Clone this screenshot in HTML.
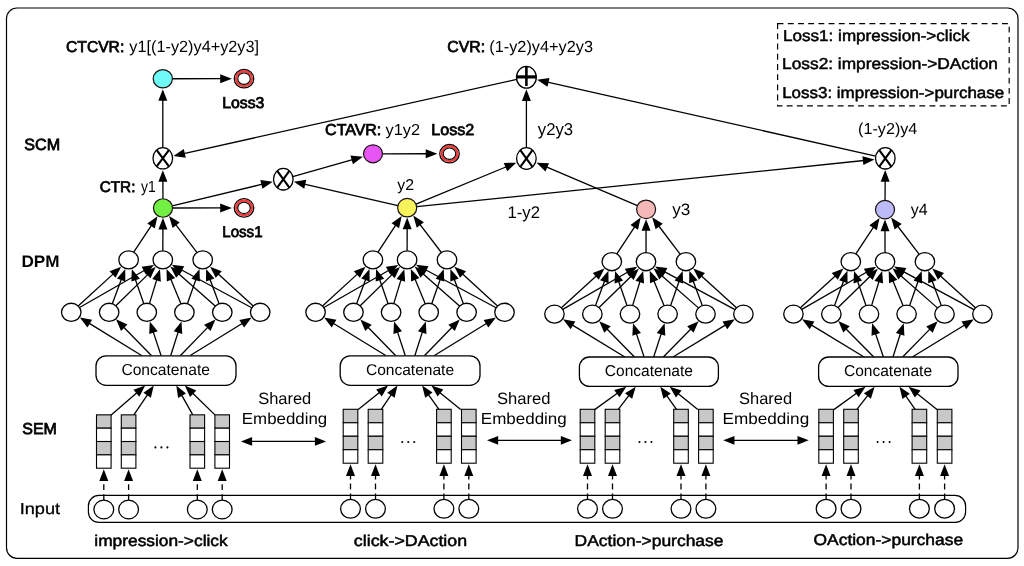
<!DOCTYPE html>
<html><head><meta charset="utf-8"><style>
html,body{margin:0;padding:0;background:#fff;}
svg{display:block;will-change:transform;}
text{font-family:"Liberation Sans",sans-serif;fill:#000;text-rendering:geometricPrecision;}
</style></head><body>
<svg width="1024" height="566" viewBox="0 0 1024 566">
<rect width="1024" height="566" fill="#fff"/>
<rect x="6.5" y="8.0" width="1011.5" height="550.3" rx="10.5" fill="#fff" stroke="#000" stroke-width="1.2"/>
<rect x="777.6" y="23.7" width="231.6" height="82.2" fill="none" stroke="#000" stroke-width="1.2" stroke-dasharray="5.9 4.3"/>
<line x1="142.01" y1="355.8" x2="88.92" y2="323.16" stroke="#000" stroke-width="1.3"/>
<polygon points="79.81,317.56 92.13,319.85 87.42,327.52" fill="#000"/>
<line x1="151.6" y1="355.8" x2="123.52" y2="327.02" stroke="#000" stroke-width="1.3"/>
<polygon points="116.05,319.37 127.44,324.6 121,330.88" fill="#000"/>
<line x1="161.14" y1="355.8" x2="153.16" y2="331.59" stroke="#000" stroke-width="1.3"/>
<polygon points="149.81,321.43 157.75,331.13 149.2,333.95" fill="#000"/>
<line x1="170.66" y1="355.8" x2="178.28" y2="331.66" stroke="#000" stroke-width="1.3"/>
<polygon points="181.51,321.46 182.27,333.97 173.69,331.26" fill="#000"/>
<line x1="180.26" y1="355.8" x2="208" y2="327.09" stroke="#000" stroke-width="1.3"/>
<polygon points="215.44,319.4 210.55,330.94 204.07,324.68" fill="#000"/>
<line x1="189.85" y1="355.8" x2="242.56" y2="323.21" stroke="#000" stroke-width="1.3"/>
<polygon points="251.66,317.58 244.08,327.56 239.34,319.91" fill="#000"/>
<line x1="78.2" y1="305.95" x2="113.31" y2="273.87" stroke="#000" stroke-width="1.3"/>
<polygon points="121.21,266.65 115.61,277.87 109.53,271.22" fill="#000"/>
<line x1="79.55" y1="307.55" x2="144.69" y2="270.26" stroke="#000" stroke-width="1.3"/>
<polygon points="153.98,264.95 146.06,274.67 141.59,266.86" fill="#000"/>
<line x1="112.33" y1="303.74" x2="121.49" y2="279.05" stroke="#000" stroke-width="1.3"/>
<polygon points="125.22,269.02 125.36,281.55 116.92,278.42" fill="#000"/>
<line x1="115.87" y1="305.74" x2="148" y2="274.36" stroke="#000" stroke-width="1.3"/>
<polygon points="155.65,266.88 150.43,278.27 144.14,271.84" fill="#000"/>
<line x1="143.81" y1="303.69" x2="135.3" y2="279.19" stroke="#000" stroke-width="1.3"/>
<polygon points="131.79,269.08 139.88,278.66 131.38,281.61" fill="#000"/>
<line x1="149.46" y1="303.59" x2="156.84" y2="279.41" stroke="#000" stroke-width="1.3"/>
<polygon points="159.97,269.18 160.85,281.69 152.25,279.06" fill="#000"/>
<line x1="180.92" y1="303.85" x2="170.59" y2="278.8" stroke="#000" stroke-width="1.3"/>
<polygon points="166.51,268.91 175.13,278.01 166.81,281.44" fill="#000"/>
<line x1="187.41" y1="303.69" x2="195.97" y2="279.18" stroke="#000" stroke-width="1.3"/>
<polygon points="199.5,269.08 199.89,281.61 191.39,278.64" fill="#000"/>
<line x1="215.23" y1="306.07" x2="178.35" y2="273.6" stroke="#000" stroke-width="1.3"/>
<polygon points="170.32,266.53 182.08,270.88 176.13,277.64" fill="#000"/>
<line x1="219.1" y1="303.75" x2="209.86" y2="279.03" stroke="#000" stroke-width="1.3"/>
<polygon points="206.11,269.01 214.42,278.39 205.99,281.55" fill="#000"/>
<line x1="251.76" y1="307.76" x2="181.19" y2="269.79" stroke="#000" stroke-width="1.3"/>
<polygon points="171.76,264.72 184.2,266.3 179.94,274.23" fill="#000"/>
<line x1="253.24" y1="305.96" x2="218.01" y2="273.85" stroke="#000" stroke-width="1.3"/>
<polygon points="210.1,266.65 221.78,271.2 215.72,277.85" fill="#000"/>
<line x1="133.71" y1="252.19" x2="151.6" y2="225.2" stroke="#000" stroke-width="1.3"/>
<polygon points="157.51,216.28 154.8,228.52 147.29,223.55" fill="#000"/>
<line x1="162.83" y1="250.85" x2="162.92" y2="228.55" stroke="#000" stroke-width="1.3"/>
<polygon points="162.96,217.85 167.42,229.57 158.42,229.53" fill="#000"/>
<line x1="197.06" y1="252.52" x2="175.55" y2="224.41" stroke="#000" stroke-width="1.3"/>
<polygon points="169.05,215.91 179.73,222.47 172.58,227.94" fill="#000"/>
<line x1="110.9" y1="415.15" x2="137.14" y2="392.58" stroke="#000" stroke-width="1.3"/>
<polygon points="145.25,385.6 139.32,396.64 133.45,389.82" fill="#000"/>
<line x1="133.7" y1="415.15" x2="147.74" y2="394.45" stroke="#000" stroke-width="1.3"/>
<polygon points="153.75,385.6 150.9,397.81 143.46,392.76" fill="#000"/>
<line x1="192.9" y1="415.15" x2="181.54" y2="394.93" stroke="#000" stroke-width="1.3"/>
<polygon points="176.3,385.6 185.95,393.6 178.11,398" fill="#000"/>
<line x1="215.2" y1="415.15" x2="192.47" y2="393.06" stroke="#000" stroke-width="1.3"/>
<polygon points="184.8,385.6 196.33,390.53 190.05,396.98" fill="#000"/>
<line x1="103.8" y1="500" x2="103.8" y2="479.9" stroke="#000" stroke-width="1.3" stroke-dasharray="5.8 4.2"/>
<polygon points="103.8,469.2 108.3,480.9 99.3,480.9" fill="#000"/>
<line x1="128.6" y1="500" x2="128.6" y2="479.9" stroke="#000" stroke-width="1.3" stroke-dasharray="5.8 4.2"/>
<polygon points="128.6,469.2 133.1,480.9 124.1,480.9" fill="#000"/>
<line x1="197.3" y1="500" x2="197.3" y2="479.9" stroke="#000" stroke-width="1.3" stroke-dasharray="5.8 4.2"/>
<polygon points="197.3,469.2 201.8,480.9 192.8,480.9" fill="#000"/>
<line x1="222.2" y1="500" x2="222.2" y2="479.9" stroke="#000" stroke-width="1.3" stroke-dasharray="5.8 4.2"/>
<polygon points="222.2,469.2 226.7,480.9 217.7,480.9" fill="#000"/>
<line x1="386.16" y1="355.8" x2="333.21" y2="323.18" stroke="#000" stroke-width="1.3"/>
<polygon points="324.1,317.57 336.42,319.87 331.7,327.54" fill="#000"/>
<line x1="395.76" y1="355.8" x2="367.79" y2="327.05" stroke="#000" stroke-width="1.3"/>
<polygon points="360.33,319.38 371.72,324.63 365.26,330.9" fill="#000"/>
<line x1="405.29" y1="355.8" x2="397.4" y2="331.61" stroke="#000" stroke-width="1.3"/>
<polygon points="394.08,321.44 401.99,331.17 393.43,333.96" fill="#000"/>
<line x1="414.81" y1="355.8" x2="422.52" y2="331.65" stroke="#000" stroke-width="1.3"/>
<polygon points="425.78,321.45 426.5,333.97 417.93,331.23" fill="#000"/>
<line x1="424.41" y1="355.8" x2="452.28" y2="327.07" stroke="#000" stroke-width="1.3"/>
<polygon points="459.73,319.39 454.81,330.92 448.35,324.65" fill="#000"/>
<line x1="434" y1="355.8" x2="486.85" y2="323.19" stroke="#000" stroke-width="1.3"/>
<polygon points="495.95,317.57 488.36,327.55 483.63,319.89" fill="#000"/>
<line x1="322.5" y1="305.95" x2="357.61" y2="273.87" stroke="#000" stroke-width="1.3"/>
<polygon points="365.51,266.65 359.91,277.87 353.83,271.22" fill="#000"/>
<line x1="323.85" y1="307.55" x2="388.99" y2="270.26" stroke="#000" stroke-width="1.3"/>
<polygon points="398.28,264.95 390.36,274.67 385.89,266.86" fill="#000"/>
<line x1="356.63" y1="303.74" x2="365.79" y2="279.05" stroke="#000" stroke-width="1.3"/>
<polygon points="369.52,269.02 369.66,281.55 361.22,278.42" fill="#000"/>
<line x1="360.17" y1="305.74" x2="392.3" y2="274.36" stroke="#000" stroke-width="1.3"/>
<polygon points="399.95,266.88 394.73,278.27 388.44,271.84" fill="#000"/>
<line x1="388.11" y1="303.69" x2="379.6" y2="279.19" stroke="#000" stroke-width="1.3"/>
<polygon points="376.09,269.08 384.18,278.66 375.68,281.61" fill="#000"/>
<line x1="393.76" y1="303.59" x2="401.14" y2="279.41" stroke="#000" stroke-width="1.3"/>
<polygon points="404.27,269.18 405.15,281.69 396.55,279.06" fill="#000"/>
<line x1="425.22" y1="303.85" x2="414.89" y2="278.8" stroke="#000" stroke-width="1.3"/>
<polygon points="410.81,268.91 419.43,278.01 411.11,281.44" fill="#000"/>
<line x1="431.71" y1="303.69" x2="440.27" y2="279.18" stroke="#000" stroke-width="1.3"/>
<polygon points="443.8,269.08 444.19,281.61 435.69,278.64" fill="#000"/>
<line x1="459.53" y1="306.07" x2="422.65" y2="273.6" stroke="#000" stroke-width="1.3"/>
<polygon points="414.62,266.53 426.38,270.88 420.43,277.64" fill="#000"/>
<line x1="463.4" y1="303.75" x2="454.16" y2="279.03" stroke="#000" stroke-width="1.3"/>
<polygon points="450.41,269.01 458.72,278.39 450.29,281.55" fill="#000"/>
<line x1="496.06" y1="307.76" x2="425.49" y2="269.79" stroke="#000" stroke-width="1.3"/>
<polygon points="416.06,264.72 428.5,266.3 424.24,274.23" fill="#000"/>
<line x1="497.54" y1="305.96" x2="462.31" y2="273.85" stroke="#000" stroke-width="1.3"/>
<polygon points="454.4,266.65 466.08,271.2 460.02,277.85" fill="#000"/>
<line x1="377.98" y1="252.17" x2="395.87" y2="224.95" stroke="#000" stroke-width="1.3"/>
<polygon points="401.74,216.01 399.08,228.25 391.56,223.31" fill="#000"/>
<line x1="407.12" y1="250.85" x2="407.16" y2="228.25" stroke="#000" stroke-width="1.3"/>
<polygon points="407.18,217.55 411.66,229.26 402.66,229.24" fill="#000"/>
<line x1="441.37" y1="252.51" x2="419.72" y2="224.13" stroke="#000" stroke-width="1.3"/>
<polygon points="413.24,215.62 423.91,222.19 416.75,227.65" fill="#000"/>
<line x1="358.2" y1="409.6" x2="379.76" y2="392.3" stroke="#000" stroke-width="1.3"/>
<polygon points="388.1,385.6 381.79,396.43 376.16,389.41" fill="#000"/>
<line x1="381.1" y1="409.6" x2="391.46" y2="394.43" stroke="#000" stroke-width="1.3"/>
<polygon points="397.5,385.6 394.61,397.8 387.18,392.72" fill="#000"/>
<line x1="439.1" y1="409.6" x2="428.28" y2="394.33" stroke="#000" stroke-width="1.3"/>
<polygon points="422.1,385.6 432.53,392.55 425.19,397.75" fill="#000"/>
<line x1="460.7" y1="409.6" x2="439.68" y2="392.38" stroke="#000" stroke-width="1.3"/>
<polygon points="431.4,385.6 443.3,389.53 437.6,396.5" fill="#000"/>
<line x1="350.5" y1="499.4" x2="350.5" y2="474.9" stroke="#000" stroke-width="1.3" stroke-dasharray="5.8 4.2"/>
<polygon points="350.5,464.2 355,475.9 346,475.9" fill="#000"/>
<line x1="375.5" y1="499.4" x2="375.5" y2="474.9" stroke="#000" stroke-width="1.3" stroke-dasharray="5.8 4.2"/>
<polygon points="375.5,464.2 380,475.9 371,475.9" fill="#000"/>
<line x1="443.9" y1="499.4" x2="443.9" y2="474.9" stroke="#000" stroke-width="1.3" stroke-dasharray="5.8 4.2"/>
<polygon points="443.9,464.2 448.4,475.9 439.4,475.9" fill="#000"/>
<line x1="468.8" y1="499.4" x2="468.8" y2="474.9" stroke="#000" stroke-width="1.3" stroke-dasharray="5.8 4.2"/>
<polygon points="468.8,464.2 473.3,475.9 464.3,475.9" fill="#000"/>
<line x1="624.8" y1="357" x2="572.16" y2="324.9" stroke="#000" stroke-width="1.3"/>
<polygon points="563.03,319.33 575.36,321.58 570.67,329.26" fill="#000"/>
<line x1="634.47" y1="357" x2="606.76" y2="328.78" stroke="#000" stroke-width="1.3"/>
<polygon points="599.27,321.15 610.68,326.34 604.25,332.65" fill="#000"/>
<line x1="644.08" y1="357" x2="636.33" y2="333.4" stroke="#000" stroke-width="1.3"/>
<polygon points="633,323.23 640.92,332.95 632.37,335.75" fill="#000"/>
<line x1="653.67" y1="357" x2="661.33" y2="333.42" stroke="#000" stroke-width="1.3"/>
<polygon points="664.63,323.24 665.3,335.76 656.74,332.98" fill="#000"/>
<line x1="663.34" y1="357" x2="691.08" y2="328.78" stroke="#000" stroke-width="1.3"/>
<polygon points="698.58,321.14 693.59,332.64 687.17,326.34" fill="#000"/>
<line x1="673.02" y1="357" x2="725.69" y2="324.9" stroke="#000" stroke-width="1.3"/>
<polygon points="734.82,319.33 727.17,329.26 722.49,321.58" fill="#000"/>
<line x1="561.4" y1="307.75" x2="596.51" y2="275.67" stroke="#000" stroke-width="1.3"/>
<polygon points="604.41,268.45 598.81,279.67 592.73,273.02" fill="#000"/>
<line x1="562.75" y1="309.35" x2="627.89" y2="272.06" stroke="#000" stroke-width="1.3"/>
<polygon points="637.18,266.75 629.26,276.47 624.79,268.66" fill="#000"/>
<line x1="595.53" y1="305.54" x2="604.69" y2="280.85" stroke="#000" stroke-width="1.3"/>
<polygon points="608.42,270.82 608.56,283.35 600.12,280.22" fill="#000"/>
<line x1="599.07" y1="307.54" x2="631.2" y2="276.16" stroke="#000" stroke-width="1.3"/>
<polygon points="638.85,268.68 633.63,280.07 627.34,273.64" fill="#000"/>
<line x1="627.01" y1="305.49" x2="618.5" y2="280.99" stroke="#000" stroke-width="1.3"/>
<polygon points="614.99,270.88 623.08,280.46 614.58,283.41" fill="#000"/>
<line x1="632.66" y1="305.39" x2="640.04" y2="281.21" stroke="#000" stroke-width="1.3"/>
<polygon points="643.17,270.98 644.05,283.49 635.45,280.86" fill="#000"/>
<line x1="664.12" y1="305.65" x2="653.79" y2="280.6" stroke="#000" stroke-width="1.3"/>
<polygon points="649.71,270.71 658.33,279.81 650.01,283.24" fill="#000"/>
<line x1="670.61" y1="305.49" x2="679.17" y2="280.98" stroke="#000" stroke-width="1.3"/>
<polygon points="682.7,270.88 683.09,283.41 674.59,280.44" fill="#000"/>
<line x1="698.43" y1="307.87" x2="661.55" y2="275.4" stroke="#000" stroke-width="1.3"/>
<polygon points="653.52,268.33 665.28,272.68 659.33,279.44" fill="#000"/>
<line x1="702.3" y1="305.55" x2="693.06" y2="280.83" stroke="#000" stroke-width="1.3"/>
<polygon points="689.31,270.81 697.62,280.19 689.19,283.35" fill="#000"/>
<line x1="734.96" y1="309.56" x2="664.39" y2="271.59" stroke="#000" stroke-width="1.3"/>
<polygon points="654.96,266.52 667.4,268.1 663.14,276.03" fill="#000"/>
<line x1="736.44" y1="307.76" x2="701.21" y2="275.65" stroke="#000" stroke-width="1.3"/>
<polygon points="693.3,268.45 704.98,273 698.92,279.65" fill="#000"/>
<line x1="616.86" y1="253.97" x2="634.8" y2="226.57" stroke="#000" stroke-width="1.3"/>
<polygon points="640.66,217.61 638.01,229.87 630.48,224.94" fill="#000"/>
<line x1="646.02" y1="252.65" x2="646.06" y2="229.85" stroke="#000" stroke-width="1.3"/>
<polygon points="646.08,219.15 650.56,230.86 641.56,230.84" fill="#000"/>
<line x1="680.28" y1="254.3" x2="658.59" y2="225.75" stroke="#000" stroke-width="1.3"/>
<polygon points="652.12,217.23 662.78,223.82 655.62,229.27" fill="#000"/>
<line x1="594.7" y1="409.6" x2="617.64" y2="392.98" stroke="#000" stroke-width="1.3"/>
<polygon points="626.3,386.7 619.47,397.21 614.19,389.92" fill="#000"/>
<line x1="618.1" y1="409.6" x2="629.18" y2="395.18" stroke="#000" stroke-width="1.3"/>
<polygon points="635.7,386.7 632.14,398.72 625,393.23" fill="#000"/>
<line x1="676.7" y1="409.6" x2="666.53" y2="395.4" stroke="#000" stroke-width="1.3"/>
<polygon points="660.3,386.7 670.77,393.59 663.45,398.83" fill="#000"/>
<line x1="697.8" y1="409.6" x2="677.99" y2="393.46" stroke="#000" stroke-width="1.3"/>
<polygon points="669.7,386.7 681.61,390.6 675.93,397.58" fill="#000"/>
<line x1="587.5" y1="499.4" x2="587.5" y2="474.9" stroke="#000" stroke-width="1.3" stroke-dasharray="5.8 4.2"/>
<polygon points="587.5,464.2 592,475.9 583,475.9" fill="#000"/>
<line x1="612.5" y1="499.4" x2="612.5" y2="474.9" stroke="#000" stroke-width="1.3" stroke-dasharray="5.8 4.2"/>
<polygon points="612.5,464.2 617,475.9 608,475.9" fill="#000"/>
<line x1="681" y1="499.4" x2="681" y2="474.9" stroke="#000" stroke-width="1.3" stroke-dasharray="5.8 4.2"/>
<polygon points="681,464.2 685.5,475.9 676.5,475.9" fill="#000"/>
<line x1="705.9" y1="499.4" x2="705.9" y2="474.9" stroke="#000" stroke-width="1.3" stroke-dasharray="5.8 4.2"/>
<polygon points="705.9,464.2 710.4,475.9 701.4,475.9" fill="#000"/>
<line x1="864.09" y1="357" x2="811.18" y2="324.87" stroke="#000" stroke-width="1.3"/>
<polygon points="802.04,319.31 814.37,321.54 809.7,329.23" fill="#000"/>
<line x1="873.77" y1="357" x2="845.82" y2="328.73" stroke="#000" stroke-width="1.3"/>
<polygon points="838.29,321.12 849.72,326.28 843.32,332.61" fill="#000"/>
<line x1="883.37" y1="357" x2="875.45" y2="333.36" stroke="#000" stroke-width="1.3"/>
<polygon points="872.05,323.22 880.04,332.88 871.5,335.74" fill="#000"/>
<line x1="892.97" y1="357" x2="900.45" y2="333.45" stroke="#000" stroke-width="1.3"/>
<polygon points="903.69,323.26 904.44,335.77 895.86,333.05" fill="#000"/>
<line x1="902.64" y1="357" x2="930.13" y2="328.83" stroke="#000" stroke-width="1.3"/>
<polygon points="937.61,321.17 932.66,332.68 926.21,326.4" fill="#000"/>
<line x1="912.32" y1="357" x2="964.71" y2="324.93" stroke="#000" stroke-width="1.3"/>
<polygon points="973.83,319.34 966.2,329.29 961.51,321.61" fill="#000"/>
<line x1="800.4" y1="307.75" x2="835.51" y2="275.67" stroke="#000" stroke-width="1.3"/>
<polygon points="843.41,268.45 837.81,279.67 831.73,273.02" fill="#000"/>
<line x1="801.75" y1="309.35" x2="866.89" y2="272.06" stroke="#000" stroke-width="1.3"/>
<polygon points="876.18,266.75 868.26,276.47 863.79,268.66" fill="#000"/>
<line x1="834.53" y1="305.54" x2="843.69" y2="280.85" stroke="#000" stroke-width="1.3"/>
<polygon points="847.42,270.82 847.56,283.35 839.12,280.22" fill="#000"/>
<line x1="838.07" y1="307.54" x2="870.2" y2="276.16" stroke="#000" stroke-width="1.3"/>
<polygon points="877.85,268.68 872.63,280.07 866.34,273.64" fill="#000"/>
<line x1="866.01" y1="305.49" x2="857.5" y2="280.99" stroke="#000" stroke-width="1.3"/>
<polygon points="853.99,270.88 862.08,280.46 853.58,283.41" fill="#000"/>
<line x1="871.66" y1="305.39" x2="879.04" y2="281.21" stroke="#000" stroke-width="1.3"/>
<polygon points="882.17,270.98 883.05,283.49 874.45,280.86" fill="#000"/>
<line x1="903.12" y1="305.65" x2="892.79" y2="280.6" stroke="#000" stroke-width="1.3"/>
<polygon points="888.71,270.71 897.33,279.81 889.01,283.24" fill="#000"/>
<line x1="909.61" y1="305.49" x2="918.17" y2="280.98" stroke="#000" stroke-width="1.3"/>
<polygon points="921.7,270.88 922.09,283.41 913.59,280.44" fill="#000"/>
<line x1="937.43" y1="307.87" x2="900.55" y2="275.4" stroke="#000" stroke-width="1.3"/>
<polygon points="892.52,268.33 904.28,272.68 898.33,279.44" fill="#000"/>
<line x1="941.3" y1="305.55" x2="932.06" y2="280.83" stroke="#000" stroke-width="1.3"/>
<polygon points="928.31,270.81 936.62,280.19 928.19,283.35" fill="#000"/>
<line x1="973.96" y1="309.56" x2="903.39" y2="271.59" stroke="#000" stroke-width="1.3"/>
<polygon points="893.96,266.52 906.4,268.1 902.14,276.03" fill="#000"/>
<line x1="975.44" y1="307.76" x2="940.21" y2="275.65" stroke="#000" stroke-width="1.3"/>
<polygon points="932.3,268.45 943.98,273 937.92,279.65" fill="#000"/>
<line x1="855.87" y1="253.97" x2="873.67" y2="226.85" stroke="#000" stroke-width="1.3"/>
<polygon points="879.55,217.91 876.89,230.16 869.36,225.22" fill="#000"/>
<line x1="885" y1="252.65" x2="885" y2="230.15" stroke="#000" stroke-width="1.3"/>
<polygon points="885,219.45 889.5,231.15 880.5,231.15" fill="#000"/>
<line x1="919.25" y1="254.32" x2="897.56" y2="226" stroke="#000" stroke-width="1.3"/>
<polygon points="891.05,217.51 901.74,224.06 894.6,229.53" fill="#000"/>
<line x1="833.9" y1="409.6" x2="856.84" y2="392.98" stroke="#000" stroke-width="1.3"/>
<polygon points="865.5,386.7 858.67,397.21 853.39,389.92" fill="#000"/>
<line x1="856.7" y1="409.6" x2="868.01" y2="395.13" stroke="#000" stroke-width="1.3"/>
<polygon points="874.6,386.7 870.94,398.69 863.85,393.15" fill="#000"/>
<line x1="915.3" y1="409.6" x2="905.58" y2="395.51" stroke="#000" stroke-width="1.3"/>
<polygon points="899.5,386.7 909.85,393.77 902.44,398.89" fill="#000"/>
<line x1="937" y1="409.6" x2="916.93" y2="393.42" stroke="#000" stroke-width="1.3"/>
<polygon points="908.6,386.7 920.53,390.54 914.88,397.55" fill="#000"/>
<line x1="826.1" y1="499.4" x2="826.1" y2="474.9" stroke="#000" stroke-width="1.3" stroke-dasharray="5.8 4.2"/>
<polygon points="826.1,464.2 830.6,475.9 821.6,475.9" fill="#000"/>
<line x1="851" y1="499.4" x2="851" y2="474.9" stroke="#000" stroke-width="1.3" stroke-dasharray="5.8 4.2"/>
<polygon points="851,464.2 855.5,475.9 846.5,475.9" fill="#000"/>
<line x1="919.4" y1="499.4" x2="919.4" y2="474.9" stroke="#000" stroke-width="1.3" stroke-dasharray="5.8 4.2"/>
<polygon points="919.4,464.2 923.9,475.9 914.9,475.9" fill="#000"/>
<line x1="944.6" y1="499.4" x2="944.6" y2="474.9" stroke="#000" stroke-width="1.3" stroke-dasharray="5.8 4.2"/>
<polygon points="944.6,464.2 949.1,475.9 940.1,475.9" fill="#000"/>
<line x1="162.96" y1="198.75" x2="162.89" y2="180.85" stroke="#000" stroke-width="1.3"/>
<polygon points="162.85,170.15 167.39,181.83 158.39,181.87" fill="#000"/>
<line x1="162.8" y1="147.55" x2="162.8" y2="99.85" stroke="#000" stroke-width="1.3"/>
<polygon points="162.8,89.15 167.3,100.85 158.3,100.85" fill="#000"/>
<line x1="172.4" y1="78.74" x2="221.2" y2="78.71" stroke="#000" stroke-width="1.3"/>
<polygon points="231.9,78.71 220.2,83.21 220.2,74.21" fill="#000"/>
<line x1="172.55" y1="207.99" x2="221.2" y2="207.93" stroke="#000" stroke-width="1.3"/>
<polygon points="231.9,207.91 220.21,212.43 220.19,203.43" fill="#000"/>
<line x1="172.27" y1="205.78" x2="262.34" y2="184.22" stroke="#000" stroke-width="1.3"/>
<polygon points="272.75,181.73 262.42,188.83 260.32,180.07" fill="#000"/>
<line x1="397.91" y1="205.56" x2="304.3" y2="184.03" stroke="#000" stroke-width="1.3"/>
<polygon points="293.87,181.63 306.28,179.87 304.26,188.64" fill="#000"/>
<line x1="292.79" y1="176.51" x2="352.64" y2="159.57" stroke="#000" stroke-width="1.3"/>
<polygon points="362.94,156.65 352.9,164.17 350.45,155.51" fill="#000"/>
<line x1="382.5" y1="153.79" x2="426.7" y2="153.73" stroke="#000" stroke-width="1.3"/>
<polygon points="437.4,153.72 425.71,158.23 425.69,149.23" fill="#000"/>
<line x1="415.99" y1="204.07" x2="506.41" y2="166.75" stroke="#000" stroke-width="1.3"/>
<polygon points="516.3,162.67 507.2,171.29 503.77,162.97" fill="#000"/>
<line x1="637.35" y1="205.59" x2="546.32" y2="166.95" stroke="#000" stroke-width="1.3"/>
<polygon points="536.47,162.77 549,163.2 545.48,171.49" fill="#000"/>
<line x1="526.4" y1="147.7" x2="526.4" y2="99.9" stroke="#000" stroke-width="1.3"/>
<polygon points="526.4,89.2 530.9,100.9 521.9,100.9" fill="#000"/>
<line x1="516.7" y1="79.46" x2="183.82" y2="153.57" stroke="#000" stroke-width="1.3"/>
<polygon points="173.38,155.89 183.82,148.96 185.78,157.74" fill="#000"/>
<line x1="416.7" y1="206.72" x2="863.91" y2="160.51" stroke="#000" stroke-width="1.3"/>
<polygon points="874.55,159.41 863.37,165.09 862.45,156.14" fill="#000"/>
<line x1="885.05" y1="200.35" x2="885.17" y2="180.7" stroke="#000" stroke-width="1.3"/>
<polygon points="885.23,170 889.66,181.73 880.66,181.67" fill="#000"/>
<line x1="875.7" y1="156.13" x2="547.51" y2="82.06" stroke="#000" stroke-width="1.3"/>
<polygon points="537.07,79.71 549.48,77.9 547.5,86.67" fill="#000"/>
<ellipse cx="71.25" cy="312.3" rx="9.75" ry="9.05" fill="#fff" stroke="#000" stroke-width="1.3"/>
<ellipse cx="109.15" cy="312.3" rx="9.75" ry="9.05" fill="#fff" stroke="#000" stroke-width="1.3"/>
<ellipse cx="146.8" cy="312.3" rx="9.75" ry="9.05" fill="#fff" stroke="#000" stroke-width="1.3"/>
<ellipse cx="184.4" cy="312.3" rx="9.75" ry="9.05" fill="#fff" stroke="#000" stroke-width="1.3"/>
<ellipse cx="222.3" cy="312.3" rx="9.75" ry="9.05" fill="#fff" stroke="#000" stroke-width="1.3"/>
<ellipse cx="260.2" cy="312.3" rx="9.75" ry="9.05" fill="#fff" stroke="#000" stroke-width="1.3"/>
<ellipse cx="128.6" cy="259.9" rx="9.75" ry="9.05" fill="#fff" stroke="#000" stroke-width="1.3"/>
<ellipse cx="162.8" cy="259.9" rx="9.75" ry="9.05" fill="#fff" stroke="#000" stroke-width="1.3"/>
<ellipse cx="202.7" cy="259.9" rx="9.75" ry="9.05" fill="#fff" stroke="#000" stroke-width="1.3"/>
<ellipse cx="163" cy="208" rx="9.55" ry="9.25" fill="#72f043" stroke="#1a1010" stroke-width="1.2"/>
<rect x="96" y="355.8" width="140" height="29.5" rx="10" fill="#fff" stroke="#000" stroke-width="1.3"/>
<rect x="96.5" y="414.85" width="14.6" height="13.34" fill="#c8c8c8" stroke="#000" stroke-width="1.1"/>
<rect x="96.5" y="428.19" width="14.6" height="13.34" fill="#fff" stroke="#000" stroke-width="1.1"/>
<rect x="96.5" y="441.52" width="14.6" height="13.34" fill="#c8c8c8" stroke="#000" stroke-width="1.1"/>
<rect x="96.5" y="454.86" width="14.6" height="13.34" fill="#fff" stroke="#000" stroke-width="1.1"/>
<rect x="121.3" y="414.85" width="14.6" height="13.34" fill="#c8c8c8" stroke="#000" stroke-width="1.1"/>
<rect x="121.3" y="428.19" width="14.6" height="13.34" fill="#fff" stroke="#000" stroke-width="1.1"/>
<rect x="121.3" y="441.52" width="14.6" height="13.34" fill="#c8c8c8" stroke="#000" stroke-width="1.1"/>
<rect x="121.3" y="454.86" width="14.6" height="13.34" fill="#fff" stroke="#000" stroke-width="1.1"/>
<rect x="190" y="414.85" width="14.6" height="13.34" fill="#c8c8c8" stroke="#000" stroke-width="1.1"/>
<rect x="190" y="428.19" width="14.6" height="13.34" fill="#fff" stroke="#000" stroke-width="1.1"/>
<rect x="190" y="441.52" width="14.6" height="13.34" fill="#c8c8c8" stroke="#000" stroke-width="1.1"/>
<rect x="190" y="454.86" width="14.6" height="13.34" fill="#fff" stroke="#000" stroke-width="1.1"/>
<rect x="214.9" y="414.85" width="14.6" height="13.34" fill="#c8c8c8" stroke="#000" stroke-width="1.1"/>
<rect x="214.9" y="428.19" width="14.6" height="13.34" fill="#fff" stroke="#000" stroke-width="1.1"/>
<rect x="214.9" y="441.52" width="14.6" height="13.34" fill="#c8c8c8" stroke="#000" stroke-width="1.1"/>
<rect x="214.9" y="454.86" width="14.6" height="13.34" fill="#fff" stroke="#000" stroke-width="1.1"/>
<ellipse cx="315.55" cy="312.3" rx="9.75" ry="9.05" fill="#fff" stroke="#000" stroke-width="1.3"/>
<ellipse cx="353.45" cy="312.3" rx="9.75" ry="9.05" fill="#fff" stroke="#000" stroke-width="1.3"/>
<ellipse cx="391.1" cy="312.3" rx="9.75" ry="9.05" fill="#fff" stroke="#000" stroke-width="1.3"/>
<ellipse cx="428.7" cy="312.3" rx="9.75" ry="9.05" fill="#fff" stroke="#000" stroke-width="1.3"/>
<ellipse cx="466.6" cy="312.3" rx="9.75" ry="9.05" fill="#fff" stroke="#000" stroke-width="1.3"/>
<ellipse cx="504.5" cy="312.3" rx="9.75" ry="9.05" fill="#fff" stroke="#000" stroke-width="1.3"/>
<ellipse cx="372.9" cy="259.9" rx="9.75" ry="9.05" fill="#fff" stroke="#000" stroke-width="1.3"/>
<ellipse cx="407.1" cy="259.9" rx="9.75" ry="9.05" fill="#fff" stroke="#000" stroke-width="1.3"/>
<ellipse cx="447" cy="259.9" rx="9.75" ry="9.05" fill="#fff" stroke="#000" stroke-width="1.3"/>
<ellipse cx="407.2" cy="207.7" rx="9.55" ry="9.25" fill="#f7f35c" stroke="#1a1010" stroke-width="1.2"/>
<rect x="340.2" y="355.8" width="139.8" height="29.5" rx="10" fill="#fff" stroke="#000" stroke-width="1.3"/>
<rect x="343.2" y="409.3" width="14.6" height="13.47" fill="#c8c8c8" stroke="#000" stroke-width="1.1"/>
<rect x="343.2" y="422.77" width="14.6" height="13.47" fill="#fff" stroke="#000" stroke-width="1.1"/>
<rect x="343.2" y="436.25" width="14.6" height="13.47" fill="#c8c8c8" stroke="#000" stroke-width="1.1"/>
<rect x="343.2" y="449.73" width="14.6" height="13.47" fill="#fff" stroke="#000" stroke-width="1.1"/>
<rect x="368.2" y="409.3" width="14.6" height="13.47" fill="#c8c8c8" stroke="#000" stroke-width="1.1"/>
<rect x="368.2" y="422.77" width="14.6" height="13.47" fill="#fff" stroke="#000" stroke-width="1.1"/>
<rect x="368.2" y="436.25" width="14.6" height="13.47" fill="#c8c8c8" stroke="#000" stroke-width="1.1"/>
<rect x="368.2" y="449.73" width="14.6" height="13.47" fill="#fff" stroke="#000" stroke-width="1.1"/>
<rect x="436.6" y="409.3" width="14.6" height="13.47" fill="#c8c8c8" stroke="#000" stroke-width="1.1"/>
<rect x="436.6" y="422.77" width="14.6" height="13.47" fill="#fff" stroke="#000" stroke-width="1.1"/>
<rect x="436.6" y="436.25" width="14.6" height="13.47" fill="#c8c8c8" stroke="#000" stroke-width="1.1"/>
<rect x="436.6" y="449.73" width="14.6" height="13.47" fill="#fff" stroke="#000" stroke-width="1.1"/>
<rect x="461.5" y="409.3" width="14.6" height="13.47" fill="#c8c8c8" stroke="#000" stroke-width="1.1"/>
<rect x="461.5" y="422.77" width="14.6" height="13.47" fill="#fff" stroke="#000" stroke-width="1.1"/>
<rect x="461.5" y="436.25" width="14.6" height="13.47" fill="#c8c8c8" stroke="#000" stroke-width="1.1"/>
<rect x="461.5" y="449.73" width="14.6" height="13.47" fill="#fff" stroke="#000" stroke-width="1.1"/>
<ellipse cx="554.45" cy="314.1" rx="9.75" ry="9.05" fill="#fff" stroke="#000" stroke-width="1.3"/>
<ellipse cx="592.35" cy="314.1" rx="9.75" ry="9.05" fill="#fff" stroke="#000" stroke-width="1.3"/>
<ellipse cx="630" cy="314.1" rx="9.75" ry="9.05" fill="#fff" stroke="#000" stroke-width="1.3"/>
<ellipse cx="667.6" cy="314.1" rx="9.75" ry="9.05" fill="#fff" stroke="#000" stroke-width="1.3"/>
<ellipse cx="705.5" cy="314.1" rx="9.75" ry="9.05" fill="#fff" stroke="#000" stroke-width="1.3"/>
<ellipse cx="743.4" cy="314.1" rx="9.75" ry="9.05" fill="#fff" stroke="#000" stroke-width="1.3"/>
<ellipse cx="611.8" cy="261.7" rx="9.75" ry="9.05" fill="#fff" stroke="#000" stroke-width="1.3"/>
<ellipse cx="646" cy="261.7" rx="9.75" ry="9.05" fill="#fff" stroke="#000" stroke-width="1.3"/>
<ellipse cx="685.9" cy="261.7" rx="9.75" ry="9.05" fill="#fff" stroke="#000" stroke-width="1.3"/>
<ellipse cx="646.1" cy="209.3" rx="9.55" ry="9.25" fill="#f4b8b8" stroke="#1a1010" stroke-width="1.2"/>
<rect x="579.4" y="357" width="139" height="29.4" rx="10" fill="#fff" stroke="#000" stroke-width="1.3"/>
<rect x="580.2" y="409.3" width="14.6" height="13.47" fill="#c8c8c8" stroke="#000" stroke-width="1.1"/>
<rect x="580.2" y="422.77" width="14.6" height="13.47" fill="#fff" stroke="#000" stroke-width="1.1"/>
<rect x="580.2" y="436.25" width="14.6" height="13.47" fill="#c8c8c8" stroke="#000" stroke-width="1.1"/>
<rect x="580.2" y="449.73" width="14.6" height="13.47" fill="#fff" stroke="#000" stroke-width="1.1"/>
<rect x="605.2" y="409.3" width="14.6" height="13.47" fill="#c8c8c8" stroke="#000" stroke-width="1.1"/>
<rect x="605.2" y="422.77" width="14.6" height="13.47" fill="#fff" stroke="#000" stroke-width="1.1"/>
<rect x="605.2" y="436.25" width="14.6" height="13.47" fill="#c8c8c8" stroke="#000" stroke-width="1.1"/>
<rect x="605.2" y="449.73" width="14.6" height="13.47" fill="#fff" stroke="#000" stroke-width="1.1"/>
<rect x="673.7" y="409.3" width="14.6" height="13.47" fill="#c8c8c8" stroke="#000" stroke-width="1.1"/>
<rect x="673.7" y="422.77" width="14.6" height="13.47" fill="#fff" stroke="#000" stroke-width="1.1"/>
<rect x="673.7" y="436.25" width="14.6" height="13.47" fill="#c8c8c8" stroke="#000" stroke-width="1.1"/>
<rect x="673.7" y="449.73" width="14.6" height="13.47" fill="#fff" stroke="#000" stroke-width="1.1"/>
<rect x="698.6" y="409.3" width="14.6" height="13.47" fill="#c8c8c8" stroke="#000" stroke-width="1.1"/>
<rect x="698.6" y="422.77" width="14.6" height="13.47" fill="#fff" stroke="#000" stroke-width="1.1"/>
<rect x="698.6" y="436.25" width="14.6" height="13.47" fill="#c8c8c8" stroke="#000" stroke-width="1.1"/>
<rect x="698.6" y="449.73" width="14.6" height="13.47" fill="#fff" stroke="#000" stroke-width="1.1"/>
<ellipse cx="793.45" cy="314.1" rx="9.75" ry="9.05" fill="#fff" stroke="#000" stroke-width="1.3"/>
<ellipse cx="831.35" cy="314.1" rx="9.75" ry="9.05" fill="#fff" stroke="#000" stroke-width="1.3"/>
<ellipse cx="869" cy="314.1" rx="9.75" ry="9.05" fill="#fff" stroke="#000" stroke-width="1.3"/>
<ellipse cx="906.6" cy="314.1" rx="9.75" ry="9.05" fill="#fff" stroke="#000" stroke-width="1.3"/>
<ellipse cx="944.5" cy="314.1" rx="9.75" ry="9.05" fill="#fff" stroke="#000" stroke-width="1.3"/>
<ellipse cx="982.4" cy="314.1" rx="9.75" ry="9.05" fill="#fff" stroke="#000" stroke-width="1.3"/>
<ellipse cx="850.8" cy="261.7" rx="9.75" ry="9.05" fill="#fff" stroke="#000" stroke-width="1.3"/>
<ellipse cx="885" cy="261.7" rx="9.75" ry="9.05" fill="#fff" stroke="#000" stroke-width="1.3"/>
<ellipse cx="924.9" cy="261.7" rx="9.75" ry="9.05" fill="#fff" stroke="#000" stroke-width="1.3"/>
<ellipse cx="885" cy="209.6" rx="9.55" ry="9.25" fill="#bdbaf8" stroke="#1a1010" stroke-width="1.2"/>
<rect x="818.6" y="357" width="139.4" height="29.4" rx="10" fill="#fff" stroke="#000" stroke-width="1.3"/>
<rect x="818.8" y="409.3" width="14.6" height="13.47" fill="#c8c8c8" stroke="#000" stroke-width="1.1"/>
<rect x="818.8" y="422.77" width="14.6" height="13.47" fill="#fff" stroke="#000" stroke-width="1.1"/>
<rect x="818.8" y="436.25" width="14.6" height="13.47" fill="#c8c8c8" stroke="#000" stroke-width="1.1"/>
<rect x="818.8" y="449.73" width="14.6" height="13.47" fill="#fff" stroke="#000" stroke-width="1.1"/>
<rect x="843.7" y="409.3" width="14.6" height="13.47" fill="#c8c8c8" stroke="#000" stroke-width="1.1"/>
<rect x="843.7" y="422.77" width="14.6" height="13.47" fill="#fff" stroke="#000" stroke-width="1.1"/>
<rect x="843.7" y="436.25" width="14.6" height="13.47" fill="#c8c8c8" stroke="#000" stroke-width="1.1"/>
<rect x="843.7" y="449.73" width="14.6" height="13.47" fill="#fff" stroke="#000" stroke-width="1.1"/>
<rect x="912.1" y="409.3" width="14.6" height="13.47" fill="#c8c8c8" stroke="#000" stroke-width="1.1"/>
<rect x="912.1" y="422.77" width="14.6" height="13.47" fill="#fff" stroke="#000" stroke-width="1.1"/>
<rect x="912.1" y="436.25" width="14.6" height="13.47" fill="#c8c8c8" stroke="#000" stroke-width="1.1"/>
<rect x="912.1" y="449.73" width="14.6" height="13.47" fill="#fff" stroke="#000" stroke-width="1.1"/>
<rect x="937.3" y="409.3" width="14.6" height="13.47" fill="#c8c8c8" stroke="#000" stroke-width="1.1"/>
<rect x="937.3" y="422.77" width="14.6" height="13.47" fill="#fff" stroke="#000" stroke-width="1.1"/>
<rect x="937.3" y="436.25" width="14.6" height="13.47" fill="#c8c8c8" stroke="#000" stroke-width="1.1"/>
<rect x="937.3" y="449.73" width="14.6" height="13.47" fill="#fff" stroke="#000" stroke-width="1.1"/>
<ellipse cx="162.8" cy="78.75" rx="9.6" ry="9.2" fill="#6ffaf8" stroke="#1a1010" stroke-width="1.2"/>
<ellipse cx="373" cy="153.8" rx="9.5" ry="9" fill="#e855f5" stroke="#1a1010" stroke-width="1.2"/>
<ellipse cx="244" cy="207.9" rx="9.75" ry="9.2" fill="#fff" stroke="#000" stroke-width="1.3"/>
<ellipse cx="244" cy="207.9" rx="7.95" ry="7.4" fill="none" stroke="#f03c3a" stroke-width="2.4"/>
<ellipse cx="244" cy="207.9" rx="6.25" ry="5.7" fill="none" stroke="#000" stroke-width="1.1"/>
<ellipse cx="449.5" cy="153.7" rx="9.75" ry="9.2" fill="#fff" stroke="#000" stroke-width="1.3"/>
<ellipse cx="449.5" cy="153.7" rx="7.95" ry="7.4" fill="none" stroke="#f03c3a" stroke-width="2.4"/>
<ellipse cx="449.5" cy="153.7" rx="6.25" ry="5.7" fill="none" stroke="#000" stroke-width="1.1"/>
<ellipse cx="244" cy="78.7" rx="9.75" ry="9.2" fill="#fff" stroke="#000" stroke-width="1.3"/>
<ellipse cx="244" cy="78.7" rx="7.95" ry="7.4" fill="none" stroke="#f03c3a" stroke-width="2.4"/>
<ellipse cx="244" cy="78.7" rx="6.25" ry="5.7" fill="none" stroke="#000" stroke-width="1.1"/>
<ellipse cx="162.8" cy="158.25" rx="9.8" ry="10.7" fill="#fff" stroke="#000" stroke-width="1.3"/>
<path d="M156.72 150.01L168.88 166.49M168.88 150.01L156.72 166.49" stroke="#000" stroke-width="2.1" fill="none"/>
<ellipse cx="283.3" cy="179.2" rx="9.8" ry="10.8" fill="#fff" stroke="#000" stroke-width="1.3"/>
<path d="M277.22 170.88L289.38 187.52M289.38 170.88L277.22 187.52" stroke="#000" stroke-width="2.1" fill="none"/>
<ellipse cx="526.4" cy="158.5" rx="9.8" ry="10.8" fill="#fff" stroke="#000" stroke-width="1.3"/>
<path d="M520.32 150.18L532.48 166.82M532.48 150.18L520.32 166.82" stroke="#000" stroke-width="2.1" fill="none"/>
<ellipse cx="885.3" cy="158.3" rx="9.8" ry="10.7" fill="#fff" stroke="#000" stroke-width="1.3"/>
<path d="M879.22 150.06L891.38 166.54M891.38 150.06L879.22 166.54" stroke="#000" stroke-width="2.1" fill="none"/>
<ellipse cx="526.4" cy="77.3" rx="9.9" ry="10.9" fill="#fff" stroke="#000" stroke-width="1.3"/>
<path d="M526.4 66.4L526.4 86" stroke="#000" stroke-width="2.6" fill="none"/>
<path d="M516.5 76.9L536.3 76.9" stroke="#000" stroke-width="3.2" fill="none"/>
<rect x="88.4" y="495.4" width="877.2" height="27" rx="10.5" fill="none" stroke="#000" stroke-width="1.2"/>
<ellipse cx="103.8" cy="509.5" rx="9.9" ry="9.35" fill="#fff" stroke="#000" stroke-width="1.3"/>
<ellipse cx="128.6" cy="509.5" rx="9.9" ry="9.35" fill="#fff" stroke="#000" stroke-width="1.3"/>
<ellipse cx="197.3" cy="509.5" rx="9.9" ry="9.35" fill="#fff" stroke="#000" stroke-width="1.3"/>
<ellipse cx="222.2" cy="509.5" rx="9.9" ry="9.35" fill="#fff" stroke="#000" stroke-width="1.3"/>
<ellipse cx="350.5" cy="508.8" rx="9.9" ry="9.35" fill="#fff" stroke="#000" stroke-width="1.3"/>
<ellipse cx="375.5" cy="508.8" rx="9.9" ry="9.35" fill="#fff" stroke="#000" stroke-width="1.3"/>
<ellipse cx="443.9" cy="508.8" rx="9.9" ry="9.35" fill="#fff" stroke="#000" stroke-width="1.3"/>
<ellipse cx="468.8" cy="508.8" rx="9.9" ry="9.35" fill="#fff" stroke="#000" stroke-width="1.3"/>
<ellipse cx="587.5" cy="508.8" rx="9.9" ry="9.35" fill="#fff" stroke="#000" stroke-width="1.3"/>
<ellipse cx="612.5" cy="508.8" rx="9.9" ry="9.35" fill="#fff" stroke="#000" stroke-width="1.3"/>
<ellipse cx="681" cy="508.8" rx="9.9" ry="9.35" fill="#fff" stroke="#000" stroke-width="1.3"/>
<ellipse cx="705.9" cy="508.8" rx="9.9" ry="9.35" fill="#fff" stroke="#000" stroke-width="1.3"/>
<ellipse cx="826.1" cy="508.7" rx="9.9" ry="9.35" fill="#fff" stroke="#000" stroke-width="1.3"/>
<ellipse cx="851" cy="508.7" rx="9.9" ry="9.35" fill="#fff" stroke="#000" stroke-width="1.3"/>
<ellipse cx="919.4" cy="508.7" rx="9.9" ry="9.35" fill="#fff" stroke="#000" stroke-width="1.3"/>
<ellipse cx="944.6" cy="508.7" rx="9.9" ry="9.35" fill="#fff" stroke="#000" stroke-width="1.3"/>
<circle cx="155.4" cy="447.4" r="1.05" fill="#000"/>
<circle cx="161.4" cy="447.4" r="1.05" fill="#000"/>
<circle cx="167.4" cy="447.4" r="1.05" fill="#000"/>
<circle cx="402.27" cy="442" r="1.05" fill="#000"/>
<circle cx="408.27" cy="442" r="1.05" fill="#000"/>
<circle cx="414.27" cy="442" r="1.05" fill="#000"/>
<circle cx="639.45" cy="442" r="1.05" fill="#000"/>
<circle cx="645.45" cy="442" r="1.05" fill="#000"/>
<circle cx="651.45" cy="442" r="1.05" fill="#000"/>
<circle cx="877.6" cy="442" r="1.05" fill="#000"/>
<circle cx="883.6" cy="442" r="1.05" fill="#000"/>
<circle cx="889.6" cy="442" r="1.05" fill="#000"/>
<line x1="249.9" y1="441.4" x2="317.1" y2="441.4" stroke="#000" stroke-width="1.2"/>
<polygon points="240.9,441.4 252.1,437 252.1,445.8" fill="#000"/>
<polygon points="326.1,441.4 314.9,445.8 314.9,437" fill="#000"/>
<line x1="496" y1="440.3" x2="563" y2="440.3" stroke="#000" stroke-width="1.2"/>
<polygon points="487,440.3 498.2,435.9 498.2,444.7" fill="#000"/>
<polygon points="572,440.3 560.8,444.7 560.8,435.9" fill="#000"/>
<line x1="732.25" y1="440.3" x2="799.7" y2="440.3" stroke="#000" stroke-width="1.2"/>
<polygon points="723.25,440.3 734.45,435.9 734.45,444.7" fill="#000"/>
<polygon points="808.7,440.3 797.5,444.7 797.5,435.9" fill="#000"/>
<text x="66.08" y="51.69" font-size="15.72" stroke="#000" stroke-width="0.75" textLength="58.17" lengthAdjust="spacingAndGlyphs">CTCVR:</text>
<text x="129.36" y="51.8" font-size="16.28" textLength="129.7" lengthAdjust="spacingAndGlyphs">y1[(1-y2)y4+y2y3]</text>
<text x="447.37" y="51.84" font-size="15.93" stroke="#000" stroke-width="0.75" textLength="37.69" lengthAdjust="spacingAndGlyphs">CVR:</text>
<text x="489.29" y="51.8" font-size="16.13" textLength="103.73" lengthAdjust="spacingAndGlyphs">(1-y2)y4+y2y3</text>
<text x="222.18" y="107.79" font-size="15.72" stroke="#000" stroke-width="0.75" textLength="42.24" lengthAdjust="spacingAndGlyphs">Loss3</text>
<text x="24.34" y="150.09" font-size="16.3" stroke="#000" stroke-width="0.75" textLength="35.8" lengthAdjust="spacingAndGlyphs">SCM</text>
<text x="325.1" y="134.89" font-size="15.86" stroke="#000" stroke-width="0.75" textLength="56.23" lengthAdjust="spacingAndGlyphs">CTAVR:</text>
<text x="385.56" y="134.9" font-size="15.84" textLength="34.46" lengthAdjust="spacingAndGlyphs">y1y2</text>
<text x="431.25" y="134.89" font-size="15.86" stroke="#000" stroke-width="0.75" textLength="43.09" lengthAdjust="spacingAndGlyphs">Loss2</text>
<text x="537.81" y="134.7" font-size="17.08" textLength="35.33" lengthAdjust="spacingAndGlyphs">y2y3</text>
<text x="858.1" y="134.4" font-size="15.84" textLength="59.28" lengthAdjust="spacingAndGlyphs">(1-y2)y4</text>
<text x="99.7" y="191.99" font-size="15.43" stroke="#000" stroke-width="0.75" textLength="35.73" lengthAdjust="spacingAndGlyphs">CTR:</text>
<text x="140.97" y="192.1" font-size="16.13" textLength="14.71" lengthAdjust="spacingAndGlyphs">y1</text>
<text x="397.36" y="189.8" font-size="15.7" textLength="16.74" lengthAdjust="spacingAndGlyphs">y2</text>
<text x="507.43" y="218.2" font-size="16.86" textLength="32.51" lengthAdjust="spacingAndGlyphs">1-y2</text>
<text x="672.16" y="214.8" font-size="16.42" textLength="17.99" lengthAdjust="spacingAndGlyphs">y3</text>
<text x="910.86" y="214.7" font-size="16.28" textLength="16.91" lengthAdjust="spacingAndGlyphs">y4</text>
<text x="222.24" y="236.99" font-size="15.57" stroke="#000" stroke-width="0.75" textLength="40.33" lengthAdjust="spacingAndGlyphs">Loss1</text>
<text x="21.45" y="267" font-size="16.72" font-weight="bold" textLength="38.09" lengthAdjust="spacingAndGlyphs">DPM</text>
<text x="121.41" y="374.7" font-size="15.92" textLength="88.49" lengthAdjust="spacingAndGlyphs">Concatenate</text>
<text x="365.91" y="374.7" font-size="15.55" textLength="88.18" lengthAdjust="spacingAndGlyphs">Concatenate</text>
<text x="604.81" y="376.25" font-size="15.63" textLength="88.08" lengthAdjust="spacingAndGlyphs">Concatenate</text>
<text x="843.91" y="376.25" font-size="15.63" textLength="88.18" lengthAdjust="spacingAndGlyphs">Concatenate</text>
<text x="258.15" y="403.9" font-size="16.42" textLength="53.11" lengthAdjust="spacingAndGlyphs">Shared</text>
<text x="497.05" y="403.9" font-size="16.42" textLength="53.52" lengthAdjust="spacingAndGlyphs">Shared</text>
<text x="739.05" y="403.9" font-size="16.42" textLength="53.11" lengthAdjust="spacingAndGlyphs">Shared</text>
<text x="241.87" y="423.5" font-size="15.99" textLength="85.32" lengthAdjust="spacingAndGlyphs">Embedding</text>
<text x="480.81" y="423.5" font-size="15.99" textLength="85.99" lengthAdjust="spacingAndGlyphs">Embedding</text>
<text x="722.49" y="423.5" font-size="15.99" textLength="86.71" lengthAdjust="spacingAndGlyphs">Embedding</text>
<text x="22.25" y="433.89" font-size="15.86" stroke="#000" stroke-width="0.75" textLength="34.69" lengthAdjust="spacingAndGlyphs">SEM</text>
<text x="19.67" y="514.25" font-size="15.85" stroke="#000" stroke-width="0.3" textLength="40.41" lengthAdjust="spacingAndGlyphs">Input</text>
<text x="94.29" y="545.72" font-size="15.66" stroke="#000" stroke-width="0.5" textLength="133.43" lengthAdjust="spacingAndGlyphs">impression-&gt;click</text>
<text x="353.89" y="545.72" font-size="15.66" stroke="#000" stroke-width="0.5" textLength="113.26" lengthAdjust="spacingAndGlyphs">click-&gt;DAction</text>
<text x="574.62" y="546.12" font-size="15.81" stroke="#000" stroke-width="0.5" textLength="148.91" lengthAdjust="spacingAndGlyphs">DAction-&gt;purchase</text>
<text x="813.52" y="545.32" font-size="15.66" stroke="#000" stroke-width="0.5" textLength="149.6" lengthAdjust="spacingAndGlyphs">OAction-&gt;purchase</text>
<text x="783.05" y="40.72" font-size="15.81" stroke="#000" stroke-width="0.5" textLength="186.48" lengthAdjust="spacingAndGlyphs">Loss1: impression-&gt;click</text>
<text x="782.13" y="68.92" font-size="15.81" stroke="#000" stroke-width="0.5" textLength="215.74" lengthAdjust="spacingAndGlyphs">Loss2: impression-&gt;DAction</text>
<text x="782.16" y="97.62" font-size="15.66" stroke="#000" stroke-width="0.5" textLength="222.05" lengthAdjust="spacingAndGlyphs">Loss3: impression-&gt;purchase</text>
</svg>
</body></html>
